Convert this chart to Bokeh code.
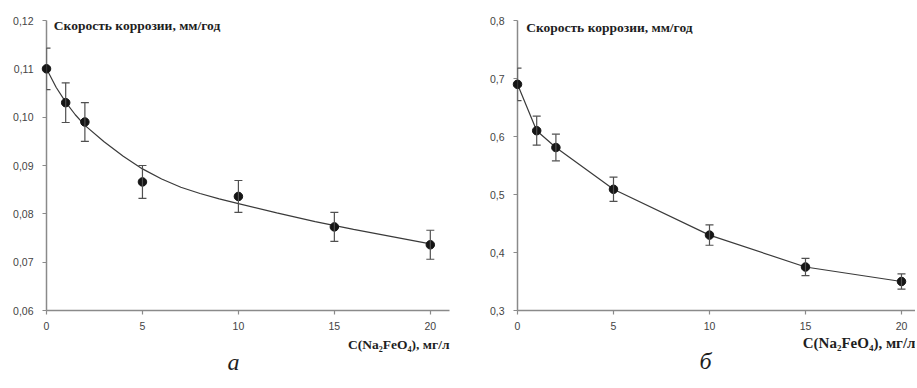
from bokeh.plotting import figure
from bokeh.models import (ColumnDataSource, Whisker, TeeHead, Range1d,
                          FixedTicker)
from bokeh.core.properties import value
from bokeh.layouts import row
from bokeh.embed import file_html
from bokeh.resources import INLINE

# ---------------- data ----------------
conc = [0, 1, 2, 5, 10, 15, 20]

# (а) corrosion rate, mm/year
rate_a = [0.1100, 0.1030, 0.0990, 0.0866, 0.0836, 0.0773, 0.0736]
err_a = [0.0043, 0.0041, 0.0040, 0.0034, 0.0033, 0.0030, 0.0030]
# (а) fitted trend curve
fit_x = [0, 0.5, 1, 1.5, 2, 3, 4, 5, 6, 7, 8, 9, 10, 12, 14, 16, 18, 20]
fit_y = [0.1100, 0.1062, 0.1031, 0.1005, 0.0983, 0.0949, 0.0919, 0.0893,
         0.0872, 0.0855, 0.0842, 0.0831, 0.0821, 0.0802, 0.0784, 0.0768,
         0.0753, 0.0738]

# (б) corrosion rate, mm/year
rate_b = [0.690, 0.610, 0.581, 0.509, 0.430, 0.375, 0.350]
err_b = [0.028, 0.025, 0.023, 0.021, 0.0175, 0.015, 0.013]

yticks_a = [0.06, 0.07, 0.08, 0.09, 0.10, 0.11, 0.12]
ylabels_a = ["0,06", "0,07", "0,08", "0,09", "0,10", "0,11", "0,12"]
yticks_b = [0.3, 0.4, 0.5, 0.6, 0.7, 0.8]
ylabels_b = ["0,3", "0,4", "0,5", "0,6", "0,7", "0,8"]
xticks = [0, 5, 10, 15, 20]

title_text = "Скорость коррозии, мм/год"
xlabel_text = "C(Na₂FeO₄), мг/л"
captions = ["а", "б"]

SERIF = "Liberation Serif"
SANS = "Liberation Sans"
AXIS_COL = "#8a8a8a"
TICK_TXT = "#444444"
DOT_COL = "#151515"
LINE_COL = "#3a3a3a"
WHISK_COL = "#505050"
H = 380


def make_fig(width, left, right, top, xmax, ymin, ymax, yticks, ylabels):
    p = figure(width=width, height=H, output_backend="svg",
               toolbar_location=None, x_range=Range1d(0, xmax),
               y_range=Range1d(ymin, ymax),
               min_border_left=left, min_border_right=right,
               min_border_top=top, min_border_bottom=H - top - 291)
    p.outline_line_color = None
    p.grid.visible = False
    p.background_fill_color = "white"
    p.border_fill_color = "white"
    for ax in (p.xaxis[0], p.yaxis[0]):
        ax.axis_line_color = AXIS_COL
        ax.axis_line_width = 1.5
        ax.major_tick_line_color = AXIS_COL
        ax.major_tick_line_width = 1.2
        ax.major_tick_out = 4
        ax.major_tick_in = 0
        ax.minor_tick_line_color = None
        ax.major_label_text_font = SANS
        ax.major_label_text_font_size = "10.5px"
        ax.major_label_text_color = TICK_TXT
    p.xaxis.ticker = FixedTicker(ticks=xticks)
    p.xaxis.major_label_standoff = 7
    p.yaxis.ticker = FixedTicker(ticks=yticks)
    p.yaxis.major_label_overrides = {t: l for t, l in zip(yticks, ylabels)}
    p.yaxis.major_label_standoff = 9
    return p


def add_points(p, ys, errs):
    src = ColumnDataSource(dict(
        x=conc, y=ys,
        upper=[v + e for v, e in zip(ys, errs)],
        lower=[v - e for v, e in zip(ys, errs)]))
    w = Whisker(source=src, base="x", upper="upper", lower="lower",
                level="overlay", line_color=WHISK_COL, line_width=1.2,
                upper_head=TeeHead(size=8, line_color=WHISK_COL, line_width=1.2),
                lower_head=TeeHead(size=8, line_color=WHISK_COL, line_width=1.2))
    p.add_layout(w)
    r = p.scatter("x", "y", source=src, size=8.5, fill_color=DOT_COL,
                  line_color=DOT_COL)
    r.level = "overlay"


def add_text(p, x, y, txt, size, style, align, baseline):
    r = p.text(x=[x], y=[y], text=[txt], text_font=value(SERIF),
               text_font_style=style, text_font_size=size,
               text_color="#1e1e1e", text_align=align,
               text_baseline=baseline)
    r.level = "overlay"


# ---------------- (а) ----------------
pa = make_fig(460, 46, 11, 19, 21, 0.06, 0.12, yticks_a, ylabels_a)
la = pa.line(fit_x, fit_y, line_color=LINE_COL, line_width=1.2)
la.level = "overlay"
add_points(pa, rate_a, err_a)
add_text(pa, 0.38, 0.11891, title_text, "13.5px", "bold", "left", "middle")
add_text(pa, 21, 0.05299, xlabel_text, "13.5px", "bold", "right", "middle")
add_text(pa, 9.74, 0.04928, captions[0], "24px", "italic", "center",
         "middle")

# ---------------- (б) ----------------
pb = make_fig(455, 57, 0, 20, 20.73, 0.3, 0.8, yticks_b, ylabels_b)
lb = pb.line(conc, rate_b, line_color=LINE_COL, line_width=1.2)
lb.level = "overlay"
add_points(pb, rate_b, err_b)
add_text(pb, 0.45, 0.7885, title_text, "13.5px", "bold", "left", "middle")
add_text(pb, 20.73, 0.2433, xlabel_text, "15px", "bold", "right", "middle")
add_text(pb, 9.79, 0.2124, captions[1], "24px", "italic", "center",
         "middle")

layout = row(pa, pb)
open("out.html", "w").write(file_html(layout, INLINE))
